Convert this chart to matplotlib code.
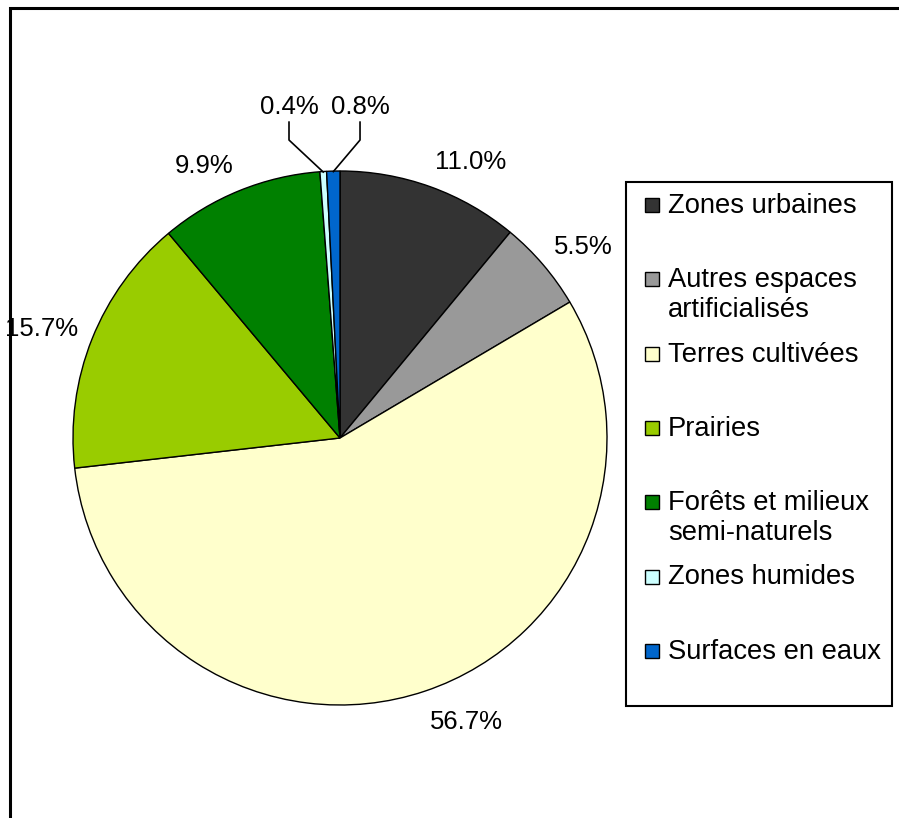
import numpy as np
import matplotlib
matplotlib.use("Agg")
import matplotlib.pyplot as plt
from matplotlib.patches import Rectangle

plt.rcParams['font.family'] = ['Liberation Sans', 'DejaVu Sans']

categories = ["Zones urbaines", "Autres espaces\nartificialisés", "Terres cultivées",
              "Prairies", "Forêts et milieux\nsemi-naturels", "Zones humides",
              "Surfaces en eaux"]
values = [11.0, 5.5, 56.7, 15.7, 9.9, 0.4, 0.8]
colors = ["#333333", "#999999", "#FFFFCC", "#99CC00", "#008000", "#CCFFFF", "#0066CC"]
pct_labels = ["11.0%", "5.5%", "56.7%", "15.7%", "9.9%", "0.4%", "0.8%"]

W, H = 899, 818
fig = plt.figure(figsize=(W / 100, H / 100), dpi=100)

# outer frame (left and top visible)
fig.add_artist(Rectangle((10 / W, -0.1), 1.2, (H - 8) / H + 0.1, transform=fig.transFigure,
                         fill=False, edgecolor='black', linewidth=2.2))

cx, cy, R = 340, 438, 267
ax = fig.add_axes([(cx - R) / W, (H - cy - R) / H, 2 * R / W, 2 * R / H])
wedges, _ = ax.pie(values, colors=colors, startangle=90, counterclock=False, radius=1,
                   wedgeprops=dict(edgecolor='black', linewidth=1))
ax.set_xlim(-1, 1)
ax.set_ylim(-1, 1)
ax.set_aspect('auto')
ax.axis('off')

fs_pct = 18.5
for i, (w, lab) in enumerate(zip(wedges, pct_labels)):
    mid = np.deg2rad((w.theta1 + w.theta2) / 2)
    c, s = np.cos(mid), np.sin(mid)
    if i in (5, 6):
        # leader-lined small slices
        lx = -0.191 if i == 5 else 0.075
        ax.plot([lx, lx, c * 0.998], [1.183, 1.116, s * 0.998], color='black', lw=1.2,
                clip_on=False, zorder=5)
        ax.text(lx, 1.195, lab, ha='center', va='bottom', fontsize=fs_pct, clip_on=False)
        continue
    r = 1.055
    ha = 'left' if c > 0.1 else ('right' if c < -0.1 else 'center')
    dy = 8.5 * s if s > 0 else 13 * s
    ax.annotate(lab, xy=(r * c, r * s), xytext=(0, dy), textcoords='offset points',
                ha=ha, va='center', fontsize=fs_pct, annotation_clip=False)

# legend drawn as a fixed-slot box
lx0, ly0, lx1, ly1 = 626, 182, 892, 706
fig.add_artist(Rectangle((lx0 / W, (H - ly1) / H), (lx1 - lx0) / W, (ly1 - ly0) / H,
                         transform=fig.transFigure, fill=True, facecolor='white',
                         edgecolor='black', linewidth=1.5))
slot0, slot = 205, 74.3
for i, (cat, col) in enumerate(zip(categories, colors)):
    yc = slot0 + i * slot
    fig.add_artist(Rectangle((645 / W, (H - yc - 7) / H), 14 / W, 14 / H,
                             transform=fig.transFigure, facecolor=col,
                             edgecolor='black', linewidth=1))
    fig.text(668 / W, (H - yc + 12) / H, cat, ha='left', va='top', fontsize=19.7,
             linespacing=1.2)

fig.savefig("out.png", dpi=100)
